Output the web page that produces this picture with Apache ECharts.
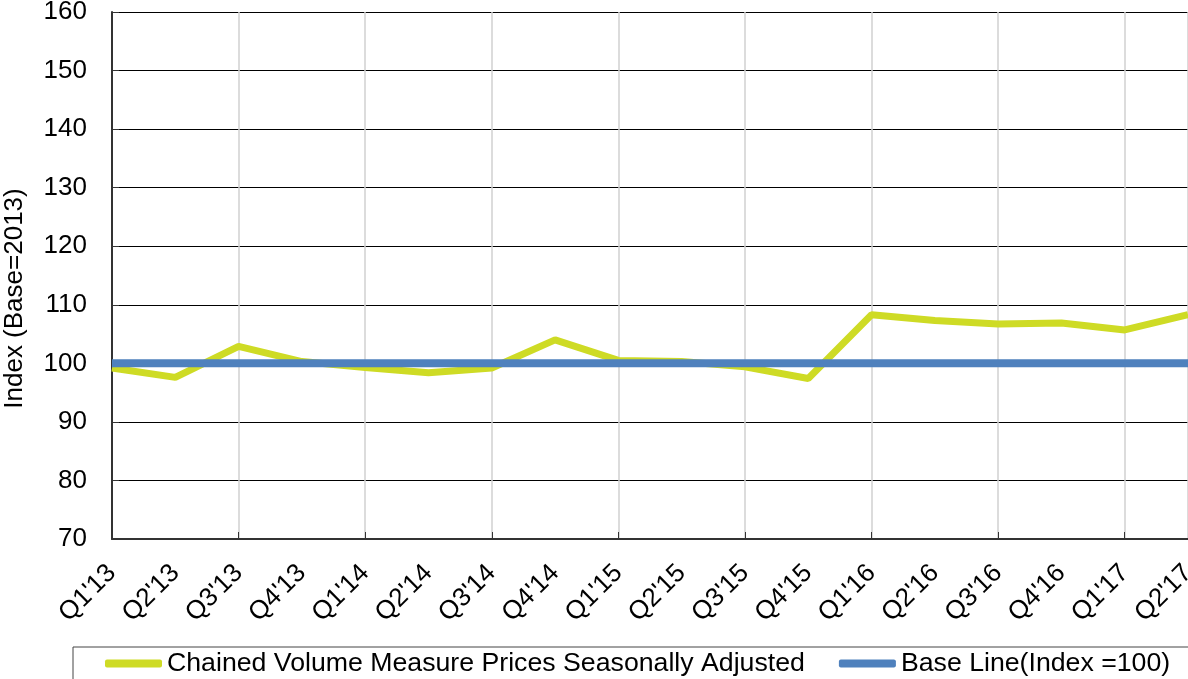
<!DOCTYPE html>
<html>
<head>
<meta charset="utf-8">
<script src="https://cdn.jsdelivr.net/npm/echarts@6/dist/echarts.min.js"></script>
<style>
  html, body { margin: 0; padding: 0; background: #fff; }
  #chart { width: 1188px; height: 679px; }
</style>
</head>
<body>
<div id="chart"></div>
<script>
// quarters on the x axis
var quarters = ["Q1'13", "Q2'13", "Q3'13", "Q4'13", "Q1'14", "Q2'14", "Q3'14", "Q4'14",
                "Q1'15", "Q2'15", "Q3'15", "Q4'15", "Q1'16", "Q2'16", "Q3'16", "Q4'16",
                "Q1'17", "Q2'17"];
// chained volume measure, seasonally adjusted (index, 2013 = 100)
var chainedVolume = [99.2, 97.6, 102.9, 100.3, 99.3, 98.4, 99.2, 104.0,
                     100.5, 100.3, 99.4, 97.4, 108.3, 107.3, 106.7, 106.9,
                     105.7, 108.3];
// base line at index 100
var baseLine = [100, 100, 100, 100, 100, 100, 100, 100, 100,
                100, 100, 100, 100, 100, 100, 100, 100, 100];

var myChart = echarts.init(document.getElementById('chart'));
var font = 'Liberation Sans, Arial, sans-serif';

var option = {
	animation: false,
	backgroundColor: '#fff',
	grid: {
		left: 112,
		right: 0,
		top: 12,
		bottom: 140,
		outerBoundsMode: 'none',
		containLabel: false
	},
	legend: {
		left: 73,
		top: 647,
		width: 1400,
		padding: [3, 60, 3, 32],
		itemGap: 34,
		itemWidth: 57,
		itemHeight: 8,
		icon: 'roundRect',
		borderColor: '#444',
		borderWidth: 1,
		borderRadius: 0,
		textStyle: { fontFamily: font, fontSize: 26.7, color: '#000' },
		data: ['Chained Volume Measure Prices Seasonally Adjusted', 'Base Line(Index =100)']
	},
	xAxis: {
		type: 'category',
		data: quarters,
		boundaryGap: false,
		axisLine: { lineStyle: { color: '#333', width: 2 } },
		axisTick: { interval: 1, inside: true, length: 7, lineStyle: { color: '#333' } },
		axisLabel: {
			interval: 0,
			rotate: 45,
			margin: 30,
			fontFamily: font,
			fontSize: 26,
			color: '#000'
		},
		splitLine: { show: true, interval: 1, lineStyle: { color: '#d0d0d0', width: 1.5 } }
	},
	yAxis: {
		type: 'value',
		min: 70,
		max: 160,
		interval: 10,
		name: 'Index (Base=2013)',
		nameLocation: 'middle',
		nameGap: 84,
		nameTextStyle: { fontFamily: font, fontSize: 26, color: '#000', padding: [0, 46, 0, 0] },
		axisLine: { show: true, lineStyle: { color: '#333', width: 2 } },
		axisTick: { show: true, inside: true, length: 7, lineStyle: { color: '#333' } },
		axisLabel: { margin: 25, fontFamily: font, fontSize: 26, color: '#000' },
		splitLine: { lineStyle: { color: '#000', width: 1 } }
	},
	series: [
		{
			name: 'Chained Volume Measure Prices Seasonally Adjusted',
			type: 'line',
			data: chainedVolume,
			symbol: 'none',
			color: '#cedb25',
			lineStyle: { width: 7, color: '#cedb25' }
		},
		{
			name: 'Base Line(Index =100)',
			type: 'line',
			data: baseLine,
			symbol: 'none',
			color: '#4f81bd',
			lineStyle: { width: 8, color: '#4f81bd' }
		}
	]
};
myChart.setOption(option);
</script>
</body>
</html>
